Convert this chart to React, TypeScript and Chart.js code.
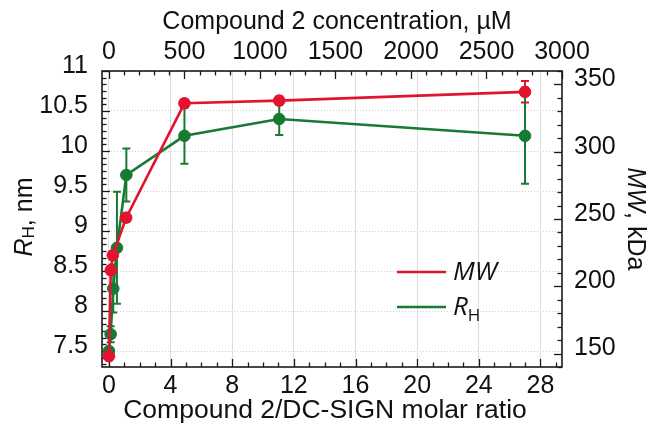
import React, { useEffect, useRef } from 'react';
import { Chart, registerables } from 'chart.js';
Chart.register(...registerables);

// ---- data ----
const ratioMW = [0, 0.12, 0.25, 1.12, 4.9, 11.05, 27.0];
const mwValues = [148, 212, 223, 251, 336, 338, 344.5];
const mwErrors = [3, 3, 3, 3, 3, 3, 8];

const ratioRH = [0, 0.11, 0.28, 0.52, 1.13, 4.9, 11.05, 27.0];
const rhValues = [7.5, 7.71, 8.28, 8.79, 9.7, 10.19, 10.4, 10.19];
const rhErrors = [0.05, 0.1, 0.3, 0.7, 0.33, 0.35, 0.2, 0.6];

const bottomTicks = [0, 4, 8, 12, 16, 20, 24, 28];
const topTicks = [0, 500, 1000, 1500, 2000, 2500, 3000];
const leftTicks = [7.5, 8, 8.5, 9, 9.5, 10, 10.5, 11];
const rightTicks = [150, 200, 250, 300, 350];

const RED = '#e3132f';
const GREEN = '#167a33';
const FONT = "'Liberation Sans', Arial, sans-serif";
const LEGEND_FONT = "'Open Sans', 'Liberation Sans', sans-serif";

const X_MIN = -0.45;
const X_MAX = 29.4;
const CONC_PER_RATIO = 3000 / X_MAX;

type Part = { text: string; font: string; dy?: number };

function drawRich(ctx: CanvasRenderingContext2D, parts: Part[], cx: number, cy: number, rot: number, align: 'center' | 'left' = 'center') {
  ctx.save();
  ctx.translate(cx, cy);
  ctx.rotate(rot);
  ctx.textBaseline = 'middle';
  ctx.textAlign = 'left';
  let total = 0;
  const widths = parts.map((p) => {
    ctx.font = p.font;
    const w = ctx.measureText(p.text).width;
    total += w;
    return w;
  });
  let x = align === 'center' ? -total / 2 : 0;
  parts.forEach((p, i) => {
    ctx.font = p.font;
    ctx.fillText(p.text, x, p.dy || 0);
    x += widths[i];
  });
  ctx.restore();
}

const errorBars = {
  id: 'errorBars',
  beforeDatasetsDraw(chart: any) {
    const { ctx } = chart;
    chart.data.datasets.forEach((ds: any, i: number) => {
      const meta = chart.getDatasetMeta(i);
      const xs = chart.scales[meta.xAxisID];
      const ys = chart.scales[meta.yAxisID];
      ctx.save();
      ctx.strokeStyle = ds.borderColor;
      ctx.lineWidth = 2;
      ds.data.forEach((pt: any, j: number) => {
        const e = ds.errors[j];
        const px = xs.getPixelForValue(pt.x);
        const y1 = ys.getPixelForValue(pt.y + e);
        const y2 = ys.getPixelForValue(pt.y - e);
        ctx.beginPath();
        ctx.moveTo(px, y1); ctx.lineTo(px, y2);
        ctx.moveTo(px - 4, y1); ctx.lineTo(px + 4, y1);
        ctx.moveTo(px - 4, y2); ctx.lineTo(px + 4, y2);
        ctx.stroke();
      });
      ctx.restore();
    });
  },
};

const frameAndTicks = {
  id: 'frameAndTicks',
  beforeDatasetsDraw(chart: any) {
    const { ctx, chartArea: a, scales } = chart;
    ctx.save();
    ctx.strokeStyle = '#1a1a1a';
    ctx.lineWidth = 1.3;
    const MAJ = 8, MIN = 4.5;
    const seg = (x1: number, y1: number, x2: number, y2: number) => {
      ctx.beginPath(); ctx.moveTo(x1, y1); ctx.lineTo(x2, y2); ctx.stroke();
    };
    for (let v = Math.ceil(scales.x.min); v <= scales.x.max; v++) {
      const p = Math.round(scales.x.getPixelForValue(v)) + 0.5;
      seg(p, a.bottom, p, a.bottom - (v % 4 === 0 ? MAJ : MIN));
    }
    for (let v = 0; v <= scales.x2.max + 1e-6; v += 100) {
      const p = Math.round(scales.x2.getPixelForValue(v)) + 0.5;
      seg(p, a.top, p, a.top + (v % 500 === 0 ? MAJ : MIN));
    }
    for (let k = -2; k <= 42; k++) {
      const v = 7.5 + k / 12;
      if (v < scales.y.min - 1e-6 || v > scales.y.max + 1e-6) continue;
      const p = Math.round(scales.y.getPixelForValue(v)) + 0.5;
      seg(a.left, p, a.left + (k % 6 === 0 ? MAJ : MIN), p);
    }
    for (let v = 140; v <= 360; v += 10) {
      const p = Math.round(scales.y2.getPixelForValue(v)) + 0.5;
      seg(a.right, p, a.right - (v % 50 === 0 ? MAJ : MIN), p);
    }
    ctx.lineWidth = 1.6;
    ctx.strokeRect(a.left, a.top, a.right - a.left, a.bottom - a.top);
    ctx.restore();
  },
  afterDraw(chart: any) {
    const { ctx, chartArea: a } = chart;
    const cx = (a.left + a.right) / 2;
    const cy = (a.top + a.bottom) / 2;
    ctx.save();
    ctx.fillStyle = '#111';
    const reg = `25px ${FONT}`;
    const ital = `italic 25px ${FONT}`;
    const sub = `17px ${FONT}`;
    drawRich(ctx, [{ text: 'Compound 2 concentration, µM', font: reg }], cx + 5, 22, 0);
    drawRich(ctx, [{ text: 'Compound 2/DC-SIGN molar ratio', font: `26.5px ${FONT}` }], cx - 7, 411, 0);
    drawRich(ctx, [
      { text: 'R', font: ital },
      { text: 'H', font: sub, dy: 4 },
      { text: ', nm', font: reg },
    ], 25, cy - 2, -Math.PI / 2);
    drawRich(ctx, [
      { text: 'MW', font: ital },
      { text: ', kDa', font: reg },
    ], 635, cy, Math.PI / 2);

    // legend
    ctx.lineWidth = 2.5;
    ctx.strokeStyle = RED;
    ctx.beginPath(); ctx.moveTo(397, 272); ctx.lineTo(446, 272); ctx.stroke();
    ctx.strokeStyle = GREEN;
    ctx.beginPath(); ctx.moveTo(397, 307); ctx.lineTo(446, 307); ctx.stroke();
    const lf = `italic 26px ${LEGEND_FONT}`;
    drawRich(ctx, [{ text: 'MW', font: lf }], 453, 273, 0, 'left');
    drawRich(ctx, [
      { text: 'R', font: lf },
      { text: 'H', font: `17px ${LEGEND_FONT}`, dy: 8 },
    ], 453, 308, 0, 'left');
    ctx.restore();
  },
};

function setTicks(values: number[]) {
  return (scale: any) => {
    scale.ticks = values.map((v) => ({ value: v }));
  };
}

const plain = (v: any) => String(v);

export default function App() {
  const ref = useRef<HTMLCanvasElement | null>(null);
  useEffect(() => {
    if (!ref.current) return;
    const tickFont = { family: FONT, size: 25 };
    const chart = new Chart(ref.current, {
      type: 'scatter',
      data: {
        datasets: [
          {
            label: 'MW',
            data: ratioMW.map((x, i) => ({ x, y: mwValues[i] })),
            errors: mwErrors,
            xAxisID: 'x',
            yAxisID: 'y2',
            showLine: true,
            borderColor: RED,
            backgroundColor: RED,
            borderWidth: 2.6,
            pointRadius: 5.8,
            pointBorderWidth: 1,
          } as any,
          {
            label: 'RH',
            data: ratioRH.map((x, i) => ({ x, y: rhValues[i] })),
            errors: rhErrors,
            xAxisID: 'x',
            yAxisID: 'y',
            showLine: true,
            borderColor: GREEN,
            backgroundColor: GREEN,
            borderWidth: 2.6,
            pointRadius: 5.8,
            pointBorderWidth: 1,
          } as any,
        ],
      },
      options: {
        animation: false,
        responsive: true,
        maintainAspectRatio: false,
        layout: { padding: 0 },
        plugins: { legend: { display: false }, tooltip: { enabled: false } },
        scales: {
          x: {
            type: 'linear',
            position: 'bottom',
            min: X_MIN,
            max: X_MAX,
            afterBuildTicks: setTicks(bottomTicks),
            afterFit: (s: any) => { s.height = 65; },
            grid: { color: '#dedede', lineWidth: 1, drawTicks: false },
            border: { display: false },
            ticks: { font: tickFont, color: '#111', padding: 4, maxRotation: 0, autoSkip: false, callback: plain },
          },
          x2: {
            type: 'linear',
            position: 'top',
            min: X_MIN * CONC_PER_RATIO,
            max: 3000,
            afterBuildTicks: setTicks(topTicks),
            afterFit: (s: any) => { s.height = 71; },
            grid: { display: false, drawTicks: false },
            border: { display: false },
            ticks: { font: tickFont, color: '#111', padding: 4, maxRotation: 0, autoSkip: false, callback: plain },
          },
          y: {
            type: 'linear',
            position: 'left',
            min: 7.3,
            max: 11,
            afterBuildTicks: setTicks(leftTicks),
            afterFit: (s: any) => { s.width = 102; },
            grid: { color: '#cfcfcf', lineWidth: 1, drawTicks: false },
            border: { display: false, dash: [1, 2] },
            ticks: { font: tickFont, color: '#111', padding: 14, labelOffset: -5, autoSkip: false, callback: plain },
          },
          y2: {
            type: 'linear',
            position: 'right',
            min: 140,
            max: 360,
            afterBuildTicks: setTicks(rightTicks),
            afterFit: (s: any) => { s.width = 87; },
            grid: { display: false, drawTicks: false },
            border: { display: false },
            ticks: { font: tickFont, color: '#111', padding: 12, labelOffset: -5, autoSkip: false, callback: plain },
          },
        },
      } as any,
      plugins: [errorBars, frameAndTicks],
    });
    return () => chart.destroy();
  }, []);
  return (
    <div style={{ position: 'fixed', left: 0, top: 0, width: 649, height: 432, background: '#fff' }}>
      <canvas ref={ref} />
    </div>
  );
}
